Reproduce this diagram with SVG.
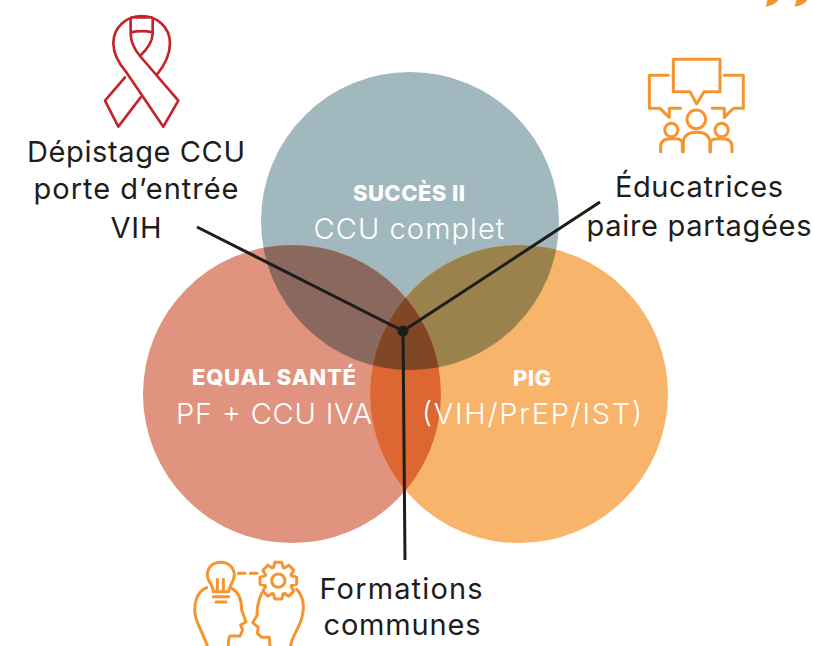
<svg xmlns="http://www.w3.org/2000/svg" width="813" height="646" viewBox="0 0 813 646">
<style>
text{font-family:"Inter","Open Sans","Liberation Sans",sans-serif;text-anchor:middle}
.lab{font-size:29px;font-weight:400;fill:#1d1d1b}
.t{font-size:22px;font-weight:800;fill:#fff}
.s{font-size:29px;font-weight:300;fill:#fff}
.red{fill:none;stroke:#c4242c;stroke-width:8;stroke-linecap:round;stroke-linejoin:round}
.or{fill:none;stroke:#f5952f;stroke-width:9;stroke-linecap:round;stroke-linejoin:round}
.con{stroke:#1d1d1b;stroke-width:3;fill:none}
</style>
<defs>
<circle id="ct" cx="410" cy="221" r="149"/>
<circle id="cl" cx="292" cy="394" r="149"/>
<circle id="cr" cx="519" cy="394" r="149"/>
<clipPath id="kt"><use href="#ct"/></clipPath>
<clipPath id="kl"><use href="#cl"/></clipPath>
<clipPath id="ktl" clip-path="url(#kt)"><use href="#cl"/></clipPath>
</defs>
<rect width="813" height="646" fill="#fff"/>
<g id="quotes" transform="translate(630 0) scale(.3333)" fill="#f5952f">
<path d="M407 20Q410 10 412 0L445 0Q435 16 407 20Z"/>
<path d="M494 20Q497 10 499 0L532 0Q522 16 494 20Z"/>
</g>
<g id="venn">
<use href="#ct" fill="#a1b8bf"/>
<use href="#cl" fill="#e09480"/>
<use href="#cr" fill="#f9b46c"/>
<use href="#cl" fill="#8b685e" clip-path="url(#kt)"/>
<use href="#cr" fill="#9b824d" clip-path="url(#kt)"/>
<use href="#cr" fill="#de6632" clip-path="url(#kl)"/>
<use href="#cr" fill="#7f4726" clip-path="url(#ktl)"/>
</g>
<g id="node-succes">
<text class="t" x="409" y="201" textLength="112">SUCCÈS II</text>
<text class="s" x="409" y="239" textLength="191">CCU complet</text>
</g>
<g id="node-equal">
<text class="t" x="274" y="385" textLength="164">EQUAL SANTÉ</text>
<text class="s" x="274" y="424" textLength="196">PF + CCU IVA</text>
</g>
<g id="node-pig">
<text class="t" x="532" y="386" textLength="38">PIG</text>
<text class="s" x="532" y="424" textLength="220">(VIH/PrEP/IST)</text>
</g>
<g id="connectors">
<path class="con" d="M197 227L403 331M600 202L403 331M405 560L403 331"/>
<circle cx="403" cy="331" r="5.5" fill="#1d1d1b"/>
</g>
<g id="node-depistage">
<g transform="translate(80 0) scale(.3333)">
<path class="red" d="M230 225C255 195 270 165 270 130C270 80 230 48 185 48C140 48 100 80 100 130C100 165 120 195 140 218L250 380L295 302L180 168C160 145 152 125 152 100V55M180 168C205 145 218 125 218 100V55M152 97Q185 90 218 97M155 52H215"/>
<path class="red" d="M135 232L75 302L115 380L182 292"/>
</g>
<text class="lab" x="136" y="162" textLength="218">Dépistage CCU</text>
<text class="lab" x="136" y="199" textLength="205">porte d’entrée</text>
<text class="lab" x="136" y="238" textLength="51">VIH</text>
</g>
<g id="node-educatrices">
<g transform="translate(630 0) scale(.3333)">
<path class="or" d="M130 178H270V275H222L200 312L180 275H130Z"/>
<path class="or" d="M115 226H58V325H90L118 352V325H152"/>
<path class="or" d="M283 226H340V325H310L283 352V325H247"/>
<circle class="or" cx="199" cy="358" r="28"/>
<circle class="or" cx="124" cy="390" r="20"/>
<circle class="or" cx="275" cy="390" r="20"/>
<path class="or" d="M160 455V430Q160 397 200 397Q240 397 240 430V455"/>
<path class="or" d="M92 455V440Q92 416 122 416H135Q157 416 157 430V455"/>
<path class="or" d="M306 455V440Q306 416 276 416H263Q241 416 241 430V455"/>
</g>
<text class="lab" x="699" y="197" textLength="168">Éducatrices</text>
<text class="lab" x="699" y="236" textLength="225">paire partagées</text>
</g>
<g id="node-formations">
<g transform="translate(180 550) scale(.3333)">
<path class="or" d="M100 125C100 105 82 95 82 75C82 50 100 37 122 37C145 37 163 52 163 75C163 95 148 105 146 125ZM112 88V125M130 88V125M100 140H146M108 156H138"/>
<path class="or" d="M175 70H232" stroke-dasharray="20 16"/>
<g transform="translate(295 92)">
<path class="or" d="M39.5 -14.4L55 -10.7L55 10.7L39.5 14.4L38.1 17.7L46.5 31.3L31.3 46.5L17.7 38.1L14.4 39.5L10.7 55L-10.7 55L-14.4 39.5L-17.7 38.1L-31.3 46.5L-46.5 31.3L-38.1 17.7L-39.5 14.4L-55 10.7L-55 -10.7L-39.5 -14.4L-38.1 -17.7L-46.5 -31.3L-31.3 -46.5L-17.7 -38.1L-14.4 -39.5L-10.7 -55L10.7 -55L14.4 -39.5L17.7 -38.1L31.3 -46.5L46.5 -31.3L38.1 -17.7Z"/>
<circle class="or" r="20"/>
</g>
<path class="or" d="M80 113C50 125 42 160 45 190C48 220 70 250 82 288M155 115C175 125 185 150 185 180L198 215L182 225L188 240L180 258H150C145 265 145 275 145 288"/>
<path class="or" d="M350 118C370 140 375 170 365 205C355 240 335 260 332 288M245 130C235 150 230 180 232 195L218 218L235 232L232 250L245 262H268L270 288"/>
</g>
<text class="lab" x="401" y="599" textLength="163">Formations</text>
<text class="lab" x="402" y="635" textLength="157">communes</text>
</g>
</svg>
